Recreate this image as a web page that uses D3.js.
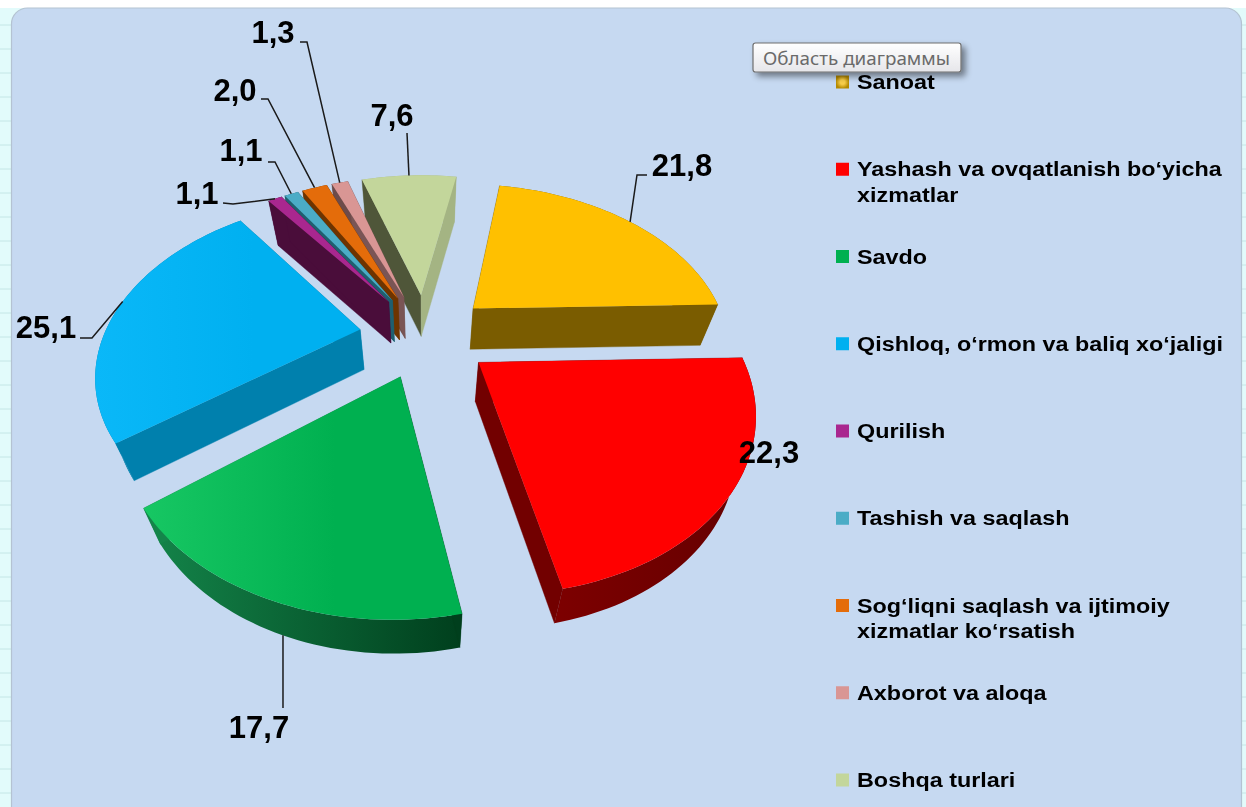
<!DOCTYPE html>
<html>
<head>
<meta charset="utf-8">
<script src="https://cdnjs.cloudflare.com/ajax/libs/d3/7.8.5/d3.min.js"></script>
<style>html,body{margin:0;padding:0;background:#fff;overflow:hidden}svg{display:block}</style>
</head>
<body>
<svg id="c" width="1246" height="807"></svg>
<script>
const categories = ["Sanoat",
  "Yashash va ovqatlanish bo‘yicha|xizmatlar",
  "Savdo",
  "Qishloq, o‘rmon va baliq xo‘jaligi",
  "Qurilish",
  "Tashish va saqlash",
  "Sog‘liqni saqlash va ijtimoiy|xizmatlar ko‘rsatish",
  "Axborot va aloqa",
  "Boshqa turlari"];
const values = [21.8, 22.3, 17.7, 25.1, 1.1, 1.1, 2.0, 1.3, 7.6];
const valueLabels = ["21,8","22,3","17,7","25,1","1,1","1,1","2,0","1,3","7,6"];
const topColors = ["#ffc000","#ff0000","#00b050","#00b0f0","#a9278f","#4bacc6","#e46c0a","#d99694","#c3d69b"];
const topHighlights = ["#ffc000","#ff0000","#17c763","#0ab8f8","#a9278f","#4bacc6","#e46c0a","#d99694","#c3d69b"];
const outerLeft = ["#7a5c00","#7d0000","#14854a","#0080ad","#4a0d3a","#1f5f70","#6e3400","#6d4b4a","#a4b483"];
const outerRight = ["#7a5c00","#640000","#003f1d","#0080ad","#4a0d3a","#1f5f70","#6e3400","#6d4b4a","#a4b483"];
const startWall = ["#7a5c00","#7d0000","#003f1d","#0080ad","#4a0d3a","#1f5f70","#6e3400","#6d4b4a","#4f5639"];
const endWall = ["#7a5c00","#720000","#14854a","#0080ad","#4a0d3a","#1f5f70","#6e3400","#7a5555","#a4b483"];

// label centres and leader lines (annotation layout)
const labelPos = [[682,165],[769,452],[259,727],[46,327],[197,193],[241,150],[235,90],[273,32],[392,115]];
const leaderElbows = [[[647,175],[637,175]],null,[[283,708]],[[80,338],[92,338]],[[223,203],[233,204]],[[268,162],[275,162]],[[261,99],[268,99]],[[300,42],[307,42]],[[407,133]]];
const leaderFraction = [0.5,0.5,0.487,0.53,0.5,0.5,0.5,0.5,0.5];

const svg = d3.select("#c");
const defs = svg.append("defs");

// page background & panel
svg.append("rect").attr("width",1246).attr("height",807).attr("fill","#e2fbfb");
svg.append("g").selectAll("line").data(d3.range(25,807,24)).join("line")
  .attr("x1",0).attr("x2",1246).attr("y1",d=>d).attr("y2",d=>d).attr("stroke","#c4e6e6");
svg.append("rect").attr("x",0).attr("y",0).attr("width",1246).attr("height",8).attr("fill","#fff");
svg.append("rect").attr("x",11.5).attr("y",8).attr("width",1230).attr("height",830).attr("rx",16)
  .attr("fill","#c6d9f1").attr("stroke","#b4c3d2").attr("stroke-width",1.2);

// 3D projection of the pie plane
const cx=425, cy=335, R=256, explode=66, tilt=0.64, persp=0.0009, depth=40, bottomScale=0.94;
function project(x,y){ const w=1+persp*y; return [cx+x/w, cy-tilt*y/w]; }
function projectBottom(x,y){ const w=1+persp*y, p=project(x,y);
  return [cx+(p[0]-cx)*bottomScale, p[1]+depth*Math.sqrt(w)]; }

const rad = d=>d*Math.PI/180;
const startDeg = 10;
const arcs = d3.pie().sort(null).startAngle(rad(startDeg)).endAngle(rad(startDeg+360))(values);
const line = d3.line();

const slices = arcs.map((a,i)=>{
  const mid=(a.startAngle+a.endAngle)/2;
  const ox=explode*Math.sin(mid), oy=explode*Math.cos(mid);
  const n=Math.max(2,Math.ceil((a.endAngle-a.startAngle)/rad(1.5)));
  const angs=d3.range(n+1).map(k=>a.startAngle+(a.endAngle-a.startAngle)*k/n);
  const rim=angs.map(t=>[ox+R*Math.sin(t),oy+R*Math.cos(t)]);
  return {i,a,mid,ox,oy,rim};
});

// gradients
slices.forEach(s=>{
  const g=defs.append("linearGradient").attr("id","o"+s.i);
  g.append("stop").attr("offset","0").attr("stop-color",outerLeft[s.i]);
  g.append("stop").attr("offset","1").attr("stop-color",outerRight[s.i]);
  const t=defs.append("linearGradient").attr("id","t"+s.i);
  t.append("stop").attr("offset","0").attr("stop-color",topHighlights[s.i]);
  t.append("stop").attr("offset","0.6").attr("stop-color",topColors[s.i]);
});

const pie=svg.append("g");
const order=slices.slice().sort((a,b)=>Math.cos(b.mid)-Math.cos(a.mid));
order.forEach(s=>{
  const g=pie.append("g");
  const apex=[s.ox,s.oy];
  const poly=pts=>line(pts)+"Z";
  const outer=s.rim.map(p=>project(...p)).concat(s.rim.slice().reverse().map(p=>projectBottom(...p)));
  g.append("path").attr("d",poly(outer)).attr("fill",`url(#o${s.i})`);
  const wall=(edge,col)=>g.append("path").attr("d",poly([project(...apex),project(...edge),projectBottom(...edge),projectBottom(...apex)])).attr("fill",col).attr("stroke",col).attr("stroke-width",.4);
  wall(s.rim[0],startWall[s.i]);
  wall(s.rim[s.rim.length-1],endWall[s.i]);
  g.append("path").attr("d",poly([project(...apex)].concat(s.rim.map(p=>project(...p)))))
    .attr("fill",`url(#t${s.i})`);
});

// leaders
const leaders=svg.append("g").attr("fill","none").attr("stroke","#1a1a1a").attr("stroke-width",1.5);
slices.forEach(s=>{
  const el=leaderElbows[s.i]; if(!el) return;
  const t=s.a.startAngle+(s.a.endAngle-s.a.startAngle)*leaderFraction[s.i];
  const dir=[s.ox+R*Math.sin(t),s.oy+R*Math.cos(t)];
  const end=s.i===2?projectBottom(...dir):project(...dir);
  leaders.append("path").attr("d",line(el.concat([end])));
});

// soft text filter (the reference is an upscaled screenshot)
defs.append("filter").attr("id","soft").append("feGaussianBlur").attr("stdDeviation",0.45);

// value labels
svg.append("g").attr("filter","url(#soft)").selectAll("text").data(valueLabels).join("text")
  .attr("x",(d,i)=>labelPos[i][0]).attr("y",(d,i)=>labelPos[i][1])
  .attr("text-anchor","middle").attr("dominant-baseline","central")
  .attr("font-family","Liberation Sans, Arial, sans-serif").attr("font-weight","bold")
  .attr("font-size",31).attr("fill","#000").text(d=>d);

// legend
const sw=defs.append("radialGradient").attr("id","swatch0");
sw.append("stop").attr("offset","0.35").attr("stop-color","#f7cd4a");
sw.append("stop").attr("offset","1").attr("stop-color","#b58a00");
const legendY=d3.scalePoint().domain(categories).range([82,780]);
const legend=svg.append("g");
categories.forEach((c,i)=>{
  const y=legendY(c);
  legend.append("rect").attr("x",836).attr("y",y-6.5).attr("width",13).attr("height",13)
    .attr("fill",i===0?"url(#swatch0)":topColors[i]);
  const lg=legend.append("g").attr("filter","url(#soft)");
  c.split("|").forEach((t,k)=>{
    const el=lg.append("text").attr("x",857).attr("y",y+k*25.5).attr("dominant-baseline","central")
      .attr("font-family","Liberation Sans, Arial, sans-serif").attr("font-weight","bold")
      .attr("font-size",20).attr("fill","#000").text(t);
    el.attr("textLength",el.node().getComputedTextLength()*1.168).attr("lengthAdjust","spacingAndGlyphs");
  });
});

// tooltip
defs.append("filter").attr("id","shadow").attr("x","-10%").attr("y","-20%").attr("width","125%").attr("height","160%")
  .append("feDropShadow").attr("dx",4).attr("dy",4).attr("stdDeviation",3).attr("flood-color","#000").attr("flood-opacity",.45);
const tg=defs.append("linearGradient").attr("id","tip").attr("x1",0).attr("x2",0).attr("y1",0).attr("y2",1);
tg.append("stop").attr("offset","0").attr("stop-color","#ffffff");
tg.append("stop").attr("offset","1").attr("stop-color","#e6e6ea");
svg.append("rect").attr("x",753).attr("y",43).attr("width",208).attr("height",29).attr("rx",2.5)
  .attr("fill","url(#tip)").attr("stroke","#6f6f6f").attr("stroke-width",1.2).attr("filter","url(#shadow)");
svg.append("text").attr("x",763).attr("y",58).attr("dominant-baseline","central")
  .attr("font-family","Noto Sans, Open Sans, sans-serif").attr("font-size",18).attr("fill","#6a6a6a")
  .attr("textLength",187).attr("lengthAdjust","spacingAndGlyphs").text("Область диаграммы");
</script>
</body>
</html>
